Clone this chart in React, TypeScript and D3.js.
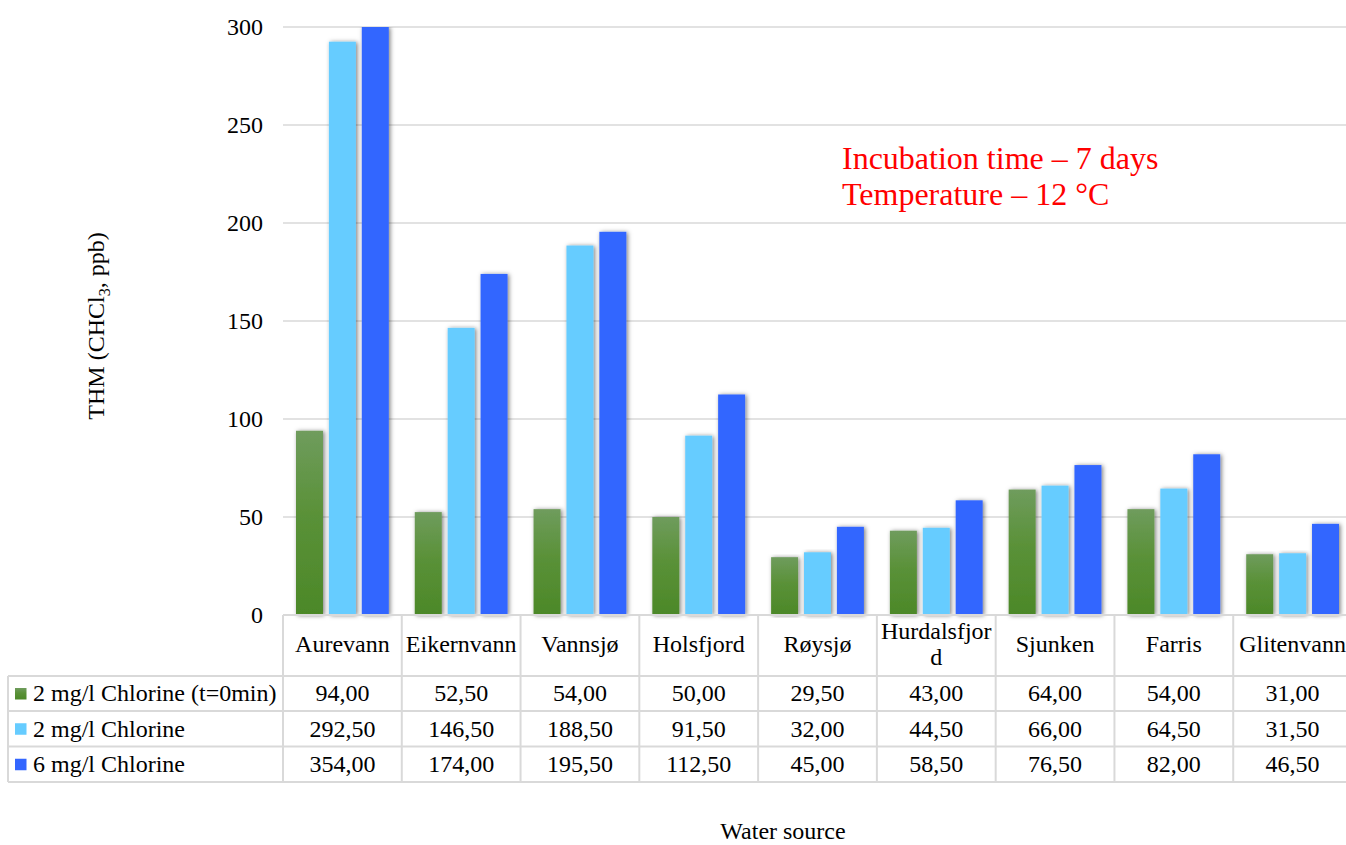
import React from "react";
import * as d3 from "d3";

const categories = ["Aurevann", "Eikernvann", "Vannsjø", "Holsfjord", "Røysjø", "Hurdalsfjord", "Sjunken", "Farris", "Glitenvann"];
const categoryLines = [["Aurevann"], ["Eikernvann"], ["Vannsjø"], ["Holsfjord"], ["Røysjø"], ["Hurdalsfjor", "d"], ["Sjunken"], ["Farris"], ["Glitenvann"]];
const seriesNames = ["2 mg/l Chlorine (t=0min)", "2 mg/l Chlorine", "6 mg/l Chlorine"];
const seriesT0 = [94, 52.5, 54, 50, 29.5, 43, 64, 54, 31];
const series2mg = [292.5, 146.5, 188.5, 91.5, 32, 44.5, 66, 64.5, 31.5];
const series6mg = [354, 174, 195.5, 112.5, 45, 58.5, 76.5, 82, 46.5];
const seriesValues = [seriesT0, series2mg, series6mg];
const yTicks = [0, 50, 100, 150, 200, 250, 300];
const annotation = ["Incubation time – 7 days", "Temperature – 12 °C"];

const W = 1346;
const H = 845;
const plotLeft = 283;
const plotRight = 1352;
const plotTop = 27;
const plotBottom = 615;
const rowEdges = [615, 676, 711, 746.5, 782];
const tableLeft = 8;
const font = "'Liberation Serif', 'Times New Roman', serif";
const fills = ["url(#greenGrad)", "#66ccff", "#3366ff"];
const grid = "#d9d9d9";

const fmt = (v: number) => v.toFixed(2).replace(".", ",");

export default function App() {
  const x0 = d3.scaleBand<string>().domain(categories).range([plotLeft, plotRight]).paddingInner(0).paddingOuter(0);
  const bw0 = x0.bandwidth();
  const x1 = d3.scaleBand<number>().domain([0, 1, 2]).range([13, bw0 - 13]).paddingInner(0.18).paddingOuter(0);
  const y = d3.scaleLinear().domain([0, 300]).range([plotBottom, plotTop]).clamp(true);

  return (
    <svg width={W} height={H} style={{ position: "absolute", left: 0, top: 0, background: "#fff" }} fontFamily={font}>
      <defs>
        <linearGradient id="greenGrad" x1="0" y1="0" x2="0" y2="1">
          <stop offset="0" stopColor="#6f9c5d" />
          <stop offset="0.45" stopColor="#5a9138" />
          <stop offset="1" stopColor="#4c8828" />
        </linearGradient>
        <filter id="shadow" x="-30%" y="-5%" width="160%" height="110%">
          <feDropShadow dx="1.5" dy="0.5" stdDeviation="2" floodColor="#000" floodOpacity="0.5" />
        </filter>
        <clipPath id="plotClip">
          <rect x={plotLeft} y={plotTop} width={W - plotLeft} height={plotBottom - plotTop + 6} />
        </clipPath>
      </defs>

      {/* gridlines */}
      {yTicks.filter((t) => t > 0).map((t) => (
        <line key={t} x1={plotLeft} x2={W} y1={y(t)} y2={y(t)} stroke={grid} strokeWidth={1.5} />
      ))}

      {/* y tick labels */}
      {yTicks.map((t) => (
        <text key={t} x={263} y={y(t)} dy="0.33em" textAnchor="end" fontSize={24} fill="#000">{t}</text>
      ))}

      {/* bars */}
      <g clipPath="url(#plotClip)">
        {categories.map((c, i) => (
          <g key={c} transform={`translate(${x0(c)},0)`}>
            {seriesValues.map((vals, s) => (
              <rect key={s} x={x1(s)} width={x1.bandwidth()} y={y(vals[i])} height={plotBottom - y(vals[i])} fill={fills[s]} filter="url(#shadow)" />
            ))}
          </g>
        ))}
      </g>

      {/* table */}
      <g>
        <line x1={plotLeft} x2={W} y1={rowEdges[0]} y2={rowEdges[0]} stroke={grid} strokeWidth={2} />
        {rowEdges.slice(1).map((ry) => (
          <line key={ry} x1={tableLeft} x2={W} y1={ry} y2={ry} stroke={grid} strokeWidth={2} />
        ))}
        <line x1={tableLeft} x2={tableLeft} y1={rowEdges[1]} y2={rowEdges[4]} stroke={grid} strokeWidth={2} />
        {categories.map((c) => (
          <line key={c} x1={x0(c)!} x2={x0(c)!} y1={rowEdges[0]} y2={rowEdges[4]} stroke={grid} strokeWidth={2} />
        ))}
        {categories.map((c, i) => {
          const lines = categoryLines[i];
          const cx = x0(c)! + bw0 / 2;
          const cy = (rowEdges[0] + rowEdges[1]) / 2;
          const lh = 26;
          return (
            <text key={c} x={cx} textAnchor="middle" fontSize={24} fill="#000">
              {lines.map((l, k) => (
                <tspan key={k} x={cx} y={cy - ((lines.length - 1) * lh) / 2 + k * lh - 1} dy="0.33em">{l}</tspan>
              ))}
            </text>
          );
        })}
        {seriesNames.map((name, s) => {
          const cy = (rowEdges[s + 1] + rowEdges[s + 2]) / 2;
          return (
            <g key={name}>
              <rect x={15} y={cy - 5.5} width={11.5} height={11.5} fill={fills[s]} />
              <text x={33} y={cy} dy="0.33em" fontSize={24} fill="#000">{name}</text>
              {categories.map((c, i) => (
                <text key={c} x={x0(c)! + bw0 / 2} y={cy} dy="0.33em" textAnchor="middle" fontSize={24} fill="#000">
                  {fmt(seriesValues[s][i])}
                </text>
              ))}
            </g>
          );
        })}
      </g>

      {/* axis titles */}
      <text transform={`translate(104,${326}) rotate(-90)`} textAnchor="middle" fontSize={24} fill="#000">
        THM (CHCl<tspan fontSize={16} dy="6">3</tspan><tspan dy="-6">, ppb)</tspan>
      </text>
      <text x={783} y={839} textAnchor="middle" fontSize={24} fill="#000">Water source</text>

      {/* annotation */}
      {annotation.map((a, k) => (
        <text key={k} x={842} y={169 + k * 36} fontSize={32} fill="#ff0000">{a}</text>
      ))}
    </svg>
  );
}
